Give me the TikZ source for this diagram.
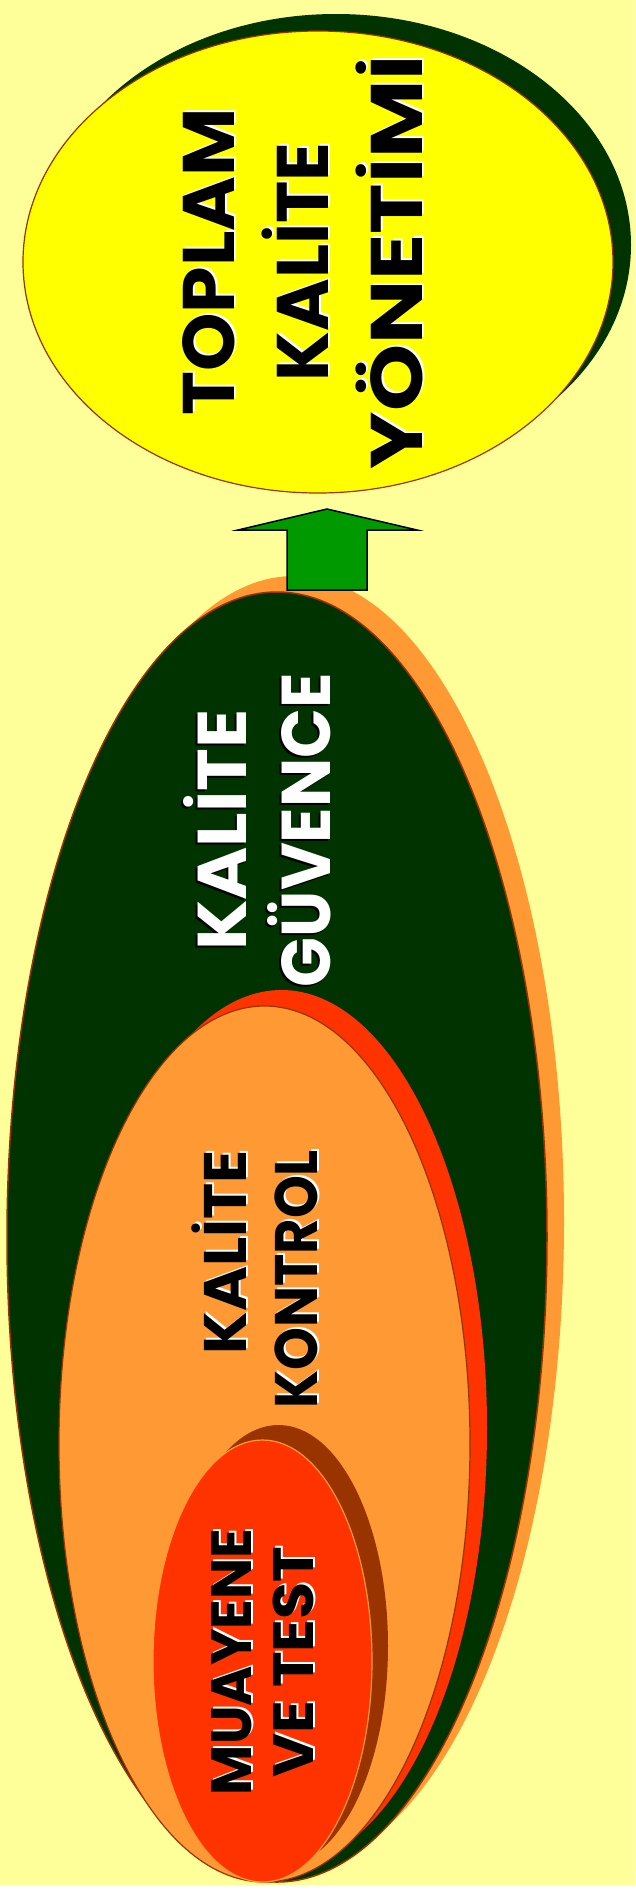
\documentclass[tikz,border=0pt]{standalone}
\usepackage{fontspec}
\usepackage{graphicx}
\setmainfont{Poppins}
\usetikzlibrary{shapes.geometric}
\definecolor{bgyellow}{HTML}{FFFF99}
\definecolor{ellyellow}{HTML}{FFFF00}
\definecolor{dkgreen}{HTML}{003300}
\definecolor{arrgreen}{HTML}{009900}
\definecolor{orng}{HTML}{FF9933}
\definecolor{rred}{HTML}{FF3300}
\definecolor{brwn}{HTML}{993300}
\newcommand\sxl[2]{\scalebox{#1}[1]{#2}}
\tikzset{
  ell/.style={ellipse, inner sep=0pt, outer sep=0pt},
  lbl/.style={rotate=90, inner sep=0pt, outer sep=0pt, text depth=0pt},
}
\begin{document}
\begin{tikzpicture}[x=1pt, y=-1pt]
\useasboundingbox (0,0) rectangle (635,1895);
\fill[white] (0,0) rectangle (635,1895);
\fill[bgyellow] (0,0) rectangle (635,1885);

% big ellipse (KALITE GUVENCE) with shadow
\node[ell, fill=orng, minimum width=540pt, minimum height=1290pt] (gshadow) at (294,1221) {};
\node[ell, fill=dkgreen, draw=brwn, line width=1.5pt, minimum width=540pt, minimum height=1290pt] (guv) at (277,1237) {};

% KALITE KONTROL with shadow
\node[ell, fill=rred, minimum width=411pt, minimum height=876pt] (kshadow) at (281.5,1428) {};
\node[ell, fill=orng, draw=brwn, line width=1.2pt, minimum width=411pt, minimum height=876pt] (kon) at (264.5,1444) {};

% MUAYENE VE TEST with shadow
\node[ell, fill=brwn, minimum width=219pt, minimum height=442pt] (mshadow) at (278.5,1646) {};
\node[ell, fill=rred, draw=orng, line width=1.2pt, minimum width=219pt, minimum height=442pt] (mua) at (262.5,1661) {};

% TOPLAM KALITE YONETIMI with shadow
\node[ell, fill=dkgreen, minimum width=590pt, minimum height=462pt] (tshadow) at (336,245) {};
\node[ell, fill=ellyellow, draw=brwn, line width=1.2pt, minimum width=590pt, minimum height=462pt] (tky) at (318,262) {};

% block arrow
\coordinate (atip) at (327,509);
\coordinate (ahl) at (238,530);
\coordinate (ahr) at (417,530);
\coordinate (asl) at (287,530);
\coordinate (asr) at (367,530);
\coordinate (abl) at (287,590);
\coordinate (abr) at (367,590);
\draw[fill=arrgreen, draw=black, line width=1.5pt, line join=miter]
  (atip) -- (ahr) -- (asr) -- (abr) -- (abl) -- (asl) -- (ahl) -- cycle;

% labels
\newcommand\tkytext{\sxl{1.02}{TOPLAM}\\\sxl{0.98}{KALİTE}\\\sxl{1.17}{YÖNETİMİ}}
\node[lbl, align=center, text=white, text height=239pt, font=\fontsize{73}{94}\selectfont\bfseries] (tkytxs) at (304.5,260) {\tkytext};
\node[lbl, align=center, text=black, text height=239pt, font=\fontsize{73}{94}\selectfont\bfseries] (tkytx) at (302.5,262) {\tkytext};

\newcommand\guvtext{\sxl{1.05}{KALİTE}\\\sxl{0.95}{GÜVENCE}}
\node[lbl, align=center, text=black, text height=132pt, font=\fontsize{69}{84}\selectfont\bfseries] (guvtxs) at (262,832) {\guvtext};
\node[lbl, align=center, text=white, text height=132pt, font=\fontsize{69}{84}\selectfont\bfseries] (guvtx) at (264,830) {\guvtext};

\newcommand\kontext{\sxl{1.02}{KALİTE}\\\sxl{0.91}{KONTROL}}
\node[lbl, align=right, anchor=east, text=white, text height=113pt, font=\fontsize{60}{71}\selectfont\bfseries] (kontxs) at (262.5,1148) {\kontext};
\node[lbl, align=right, anchor=east, text=black, text height=113pt, font=\fontsize{60}{71}\selectfont\bfseries] (kontx) at (260.5,1150) {\kontext};

\newcommand\muatext{\sxl{0.96}{MUAYENE}\\\sxl{1.06}{VE TEST}}
\node[lbl, align=center, text=white, text height=102pt, font=\fontsize{57}{62}\selectfont\bfseries] (muatxs) at (264,1660) {\muatext};
\node[lbl, align=center, text=black, text height=102pt, font=\fontsize{57}{62}\selectfont\bfseries] (muatx) at (262,1662) {\muatext};
\end{tikzpicture}
\end{document}
